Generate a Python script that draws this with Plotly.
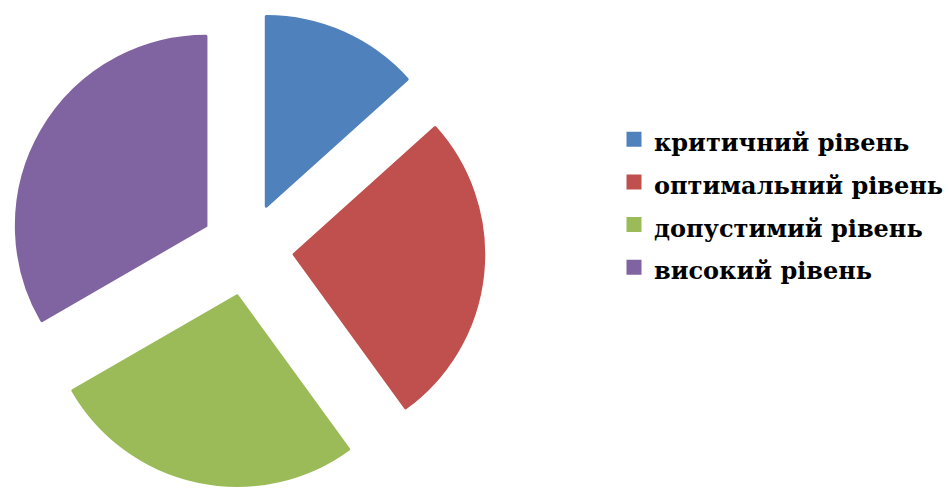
import plotly.graph_objects as go

# Distribution of levels
categories = ["критичний рівень", "оптимальний рівень", "допустимий рівень", "високий рівень"]
values = [4, 8, 8, 10]
colors = ["#4F81BD", "#C0504D", "#9BBB59", "#8064A2"]

W, H = 949, 488

# legend text is drawn a bit smaller than the legend font, which sets row spacing
legend_labels = ['<span style="font-size:24px">%s</span>' % c for c in categories]

fig = go.Figure(
    go.Pie(
        labels=legend_labels,
        values=values,
        sort=False,
        direction="clockwise",
        rotation=0,
        pull=[0.25] * len(values),
        marker=dict(colors=colors, line=dict(color=colors, width=3)),
        textinfo="none",
        hoverinfo="label+value+percent",
        domain=dict(x=[10 / W, 484 / W], y=[1.5 / H, 475.5 / H]),
    )
)

fig.update_layout(
    width=W,
    height=H,
    margin=dict(l=0, r=0, t=0, b=0, autoexpand=False),
    paper_bgcolor="white",
    plot_bgcolor="white",
    showlegend=True,
    legend=dict(
        x=614 / W,
        y=0.583,
        xanchor="left",
        yanchor="middle",
        font=dict(family="DejaVu Serif", size=30.5, color="black", weight="bold"),
        itemclick=False,
        bgcolor="rgba(0,0,0,0)",
    ),
)

fig.write_html("out.html")
